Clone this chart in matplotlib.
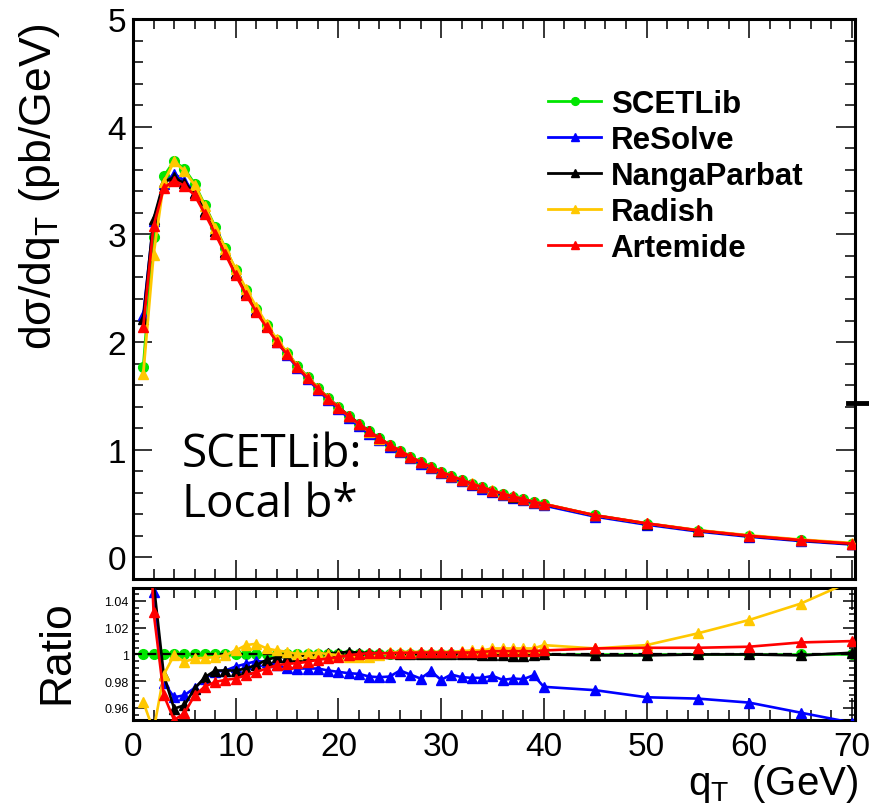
import numpy as np
import matplotlib
matplotlib.use("Agg")
import matplotlib.pyplot as plt
from matplotlib.lines import Line2D
from matplotlib.ticker import MultipleLocator

plt.rcParams['font.family'] = ['Liberation Sans', 'DejaVu Sans']
plt.rcParams['mathtext.fontset'] = 'custom'
plt.rcParams['mathtext.rm'] = 'Liberation Sans'
plt.rcParams['mathtext.it'] = 'Liberation Sans:italic'

# q_T bin centres (GeV)
qt = [1, 2, 3, 4, 5, 6, 7, 8, 9, 10, 11, 12, 13, 14, 15, 16, 17, 18, 19, 20,
      21, 22, 23, 24, 25, 26, 27, 28, 29, 30, 31, 32, 33, 34, 35, 36, 37, 38, 39, 40,
      45, 50, 55, 60, 65, 70]

# SCETLib cross section, pb/GeV
scetlib = [1.77, 2.98, 3.54, 3.68, 3.61, 3.47, 3.27, 3.07, 2.87, 2.67,
           2.48, 2.31, 2.16, 2.02, 1.90, 1.78, 1.675, 1.575, 1.48, 1.395,
           1.315, 1.24, 1.17, 1.105, 1.045, 0.99, 0.935, 0.885, 0.84, 0.795,
           0.755, 0.72, 0.685, 0.65, 0.62, 0.59, 0.565, 0.54, 0.515, 0.495,
           0.39, 0.315, 0.25, 0.20, 0.16, 0.127]

# ratios to SCETLib
r_resolve = [1.27, 1.047, 0.979, 0.968, 0.9695, 0.975, 0.982, 0.987, 0.988, 0.991,
             0.993, 0.995, 0.9945, 0.992, 0.990, 0.9895, 0.9895, 0.9895, 0.988, 0.987,
             0.986, 0.9855, 0.9835, 0.983, 0.9835, 0.988, 0.985, 0.982, 0.9875, 0.981,
             0.985, 0.983, 0.9825, 0.9825, 0.984, 0.981, 0.982, 0.9815, 0.9845, 0.9758,
             0.9733, 0.968, 0.967, 0.964, 0.9565, 0.949]
r_nanga = [1.25, 1.054, 0.9845, 0.9595, 0.962, 0.9745, 0.983, 0.988, 0.988, 0.988,
           0.9895, 0.992, 0.996, 0.998, 0.998, 0.9988, 0.9995, 1.0003, 1.0008, 1.0013,
           1.002, 1.0013, 1.0013, 1.001, 1.0008, 1.0005, 1.0005, 1.0003, 1.0003, 1.0,
           1.0, 1.0, 1.0, 0.9998, 0.9995, 0.9993, 0.999, 0.9992, 0.9995, 1.0,
           0.9993, 0.9993, 1.0, 1.0, 0.9993, 1.0013]
r_radish = [0.9645, 0.943, 0.985, 0.9995, 0.9945, 0.997, 0.9975, 0.998, 0.9995, 1.003,
            1.007, 1.008, 1.0045, 1.003, 1.002, 1.0003, 1.0008, 1.0013, 1.0003, 0.9995,
            0.998, 0.9978, 0.9978, 0.9995, 1.0015, 1.002, 1.002, 1.002, 1.002, 1.002,
            1.002, 1.0025, 1.003, 1.003, 1.0045, 1.0045, 1.0045, 1.0045, 1.0045, 1.007,
            1.0045, 1.007, 1.0158, 1.0258, 1.038, 1.055]
r_artemide = [1.21, 1.032, 0.9695, 0.951, 0.956, 0.9695, 0.976, 0.9795, 0.981, 0.982,
              0.9845, 0.987, 0.9895, 0.992, 0.993, 0.9935, 0.9945, 0.996, 0.997, 0.998,
              0.9995, 1.0003, 1.001, 1.001, 1.001, 1.0013, 1.0013, 1.0015, 1.0015, 1.0015,
              1.0015, 1.0015, 1.0015, 1.002, 1.0025, 1.0025, 1.0025, 1.0025, 1.0025, 1.003,
              1.0045, 1.005, 1.005, 1.0058, 1.009, 1.010]

names = ["SCETLib", "ReSolve", "NangaParbat", "Radish", "Artemide"]
colors = ["#00e600", "#0000ff", "#000000", "#ffc800", "#ff0000"]
markers = ["o", "^", "^", "^", "^"]

qt = np.array(qt)
scetlib = np.array(scetlib)
ratios = [np.ones_like(scetlib), np.array(r_resolve), np.array(r_nanga),
          np.array(r_radish), np.array(r_artemide)]

W, H = 869, 804
fig = plt.figure(figsize=(W / 100, H / 100), dpi=100)

def frac(l, t, r, b):
    return [l / W, 1 - b / H, (r - l) / W, (b - t) / H]

ax = fig.add_axes(frac(133, 20, 855, 580))
axr = fig.add_axes(frac(133, 589, 855, 721))

for i in range(5):
    ax.plot(qt, scetlib * ratios[i], color=colors[i], marker=markers[i],
            ms=7, lw=2.0, label=names[i], zorder=2 + i)

axr.plot(qt, ratios[0], color=colors[0], marker="o", ms=7, lw=1.8, zorder=2)
axr.axhline(1.0, color="black", ls=(0, (4, 2.5)), lw=1.6, zorder=3)
for i in range(1, 5):
    axr.plot(qt, ratios[i], color=colors[i], marker=markers[i],
             ms=6.5, lw=1.9, zorder=3 + i)

ax.set_xlim(0, 70.3)
ax.set_ylim(-0.2, 5)
axr.set_xlim(0, 70.3)
axr.set_ylim(0.951, 1.0497)

for a in (ax, axr):
    for s in a.spines.values():
        s.set_linewidth(2.2)
    a.xaxis.set_major_locator(MultipleLocator(10))
    a.xaxis.set_minor_locator(MultipleLocator(2))
    a.tick_params(which="both", direction="in", top=True, right=True, width=1.1)
    a.tick_params(which="major", length=14)
    a.tick_params(which="minor", length=7)

ax.yaxis.set_major_locator(MultipleLocator(1))
ax.yaxis.set_minor_locator(MultipleLocator(0.2))
ax.tick_params(axis="y", labelsize=24, pad=5)
ax.tick_params(axis="x", labelbottom=False)

axr.yaxis.set_major_locator(MultipleLocator(0.02))
axr.yaxis.set_minor_locator(MultipleLocator(0.005))
axr.set_yticks([0.96, 0.98, 1.0, 1.02, 1.04])
axr.set_yticklabels(["0.96", "0.98", "1", "1.02", "1.04"])
axr.tick_params(axis="y", which="major", labelsize=9, pad=3, length=9)
axr.tick_params(axis="y", which="minor", length=4)
axr.tick_params(axis="x", labelsize=24, pad=8)
axr.tick_params(axis="x", which="major", length=16)

leg = ax.legend(loc="upper left", bbox_to_anchor=(0.575, 0.875), frameon=False,
                prop={"weight": "bold", "size": 22.5}, handlelength=1.7,
                handletextpad=0.3, labelspacing=0.19, borderaxespad=0,
                borderpad=0, markerscale=0.8)

ax.text(0.068, 0.112, "SCETLib:\nLocal b*", transform=ax.transAxes,
        fontsize=33, family="Open Sans", ha="left", va="baseline",
        linespacing=1.12)

fig.text(40 / W, 1 - 187 / H, r"d$\mathrm{\sigma}$/dq$_{\rm T}$ (pb/GeV)",
         rotation=90, fontsize=32, ha="center", va="center")
fig.text(57 / W, 1 - 652 / H, "Ratio", rotation=90, fontsize=32,
         ha="center", va="center")
fig.text(858 / W, 1 - 795 / H, r"q$_{\rm T}$  (GeV)", fontsize=29,
         ha="right", va="baseline")

fig.add_artist(Line2D([848 / W, 1.0], [1 - 404 / H, 1 - 404 / H],
                      color="black", lw=3.5))

fig.savefig("out.png", dpi=100)
